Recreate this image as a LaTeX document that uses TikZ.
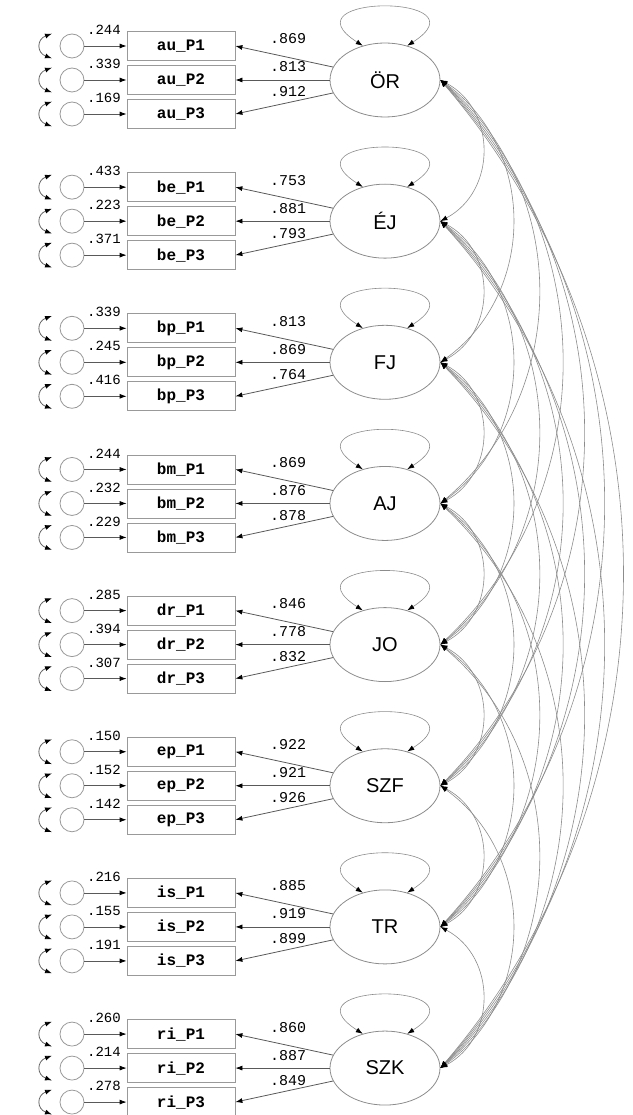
\documentclass[tikz,border=0pt]{standalone}
\usepackage{fontspec}
\setmainfont{Liberation Sans}
\newfontfamily\cfmono{Liberation Mono}
\usetikzlibrary{arrows.meta,shapes.geometric}

\begin{document}
\begin{tikzpicture}[x=1pt, y=1pt,
    >={Latex[length=7pt,width=5pt,color=black,fill=black]},
    factor/.style = {ellipse, draw=black!45, line width=0.8pt, minimum width=110pt,
      minimum height=74pt, inner sep=0pt, font=\fontsize{20}{20}\selectfont},
    indicator/.style = {rectangle, draw=black!40, line width=0.8pt, minimum width=108pt,
      minimum height=29pt, inner sep=0pt, font=\cfmono\bfseries\fontsize{16}{16}\selectfont},
    errterm/.style = {circle, draw=black!40, line width=0.8pt, minimum size=24pt, inner sep=0pt},
    reg/.style = {->, draw=black!65, line width=0.8pt},
    cov/.style = {<->, draw=black!45, line width=0.6pt},
    loadlbl/.style = {inner sep=0pt, font=\cfmono\fontsize{15}{15}\selectfont},
    varlbl/.style = {inner sep=0pt, font=\cfmono\fontsize{14}{14}\selectfont}]
  \useasboundingbox (0,0) rectangle (632,-1115);

  % factors, indicators and error terms
  \foreach \fac/\ind/\vra/\vrb/\vrc/\lda/\ldb/\ldc [count=\i] in {
      ÖR/au/.244/.339/.169/.869/.813/.912,
      ÉJ/be/.433/.223/.371/.753/.881/.793,
      FJ/bp/.339/.245/.416/.813/.869/.764,
      AJ/bm/.244/.232/.229/.869/.876/.878,
      JO/dr/.285/.394/.307/.846/.778/.832,
      SZF/ep/.150/.152/.142/.922/.921/.926,
      TR/is/.216/.155/.191/.885/.919/.899,
      SZK/ri/.260/.214/.278/.860/.887/.849} {
    \node[factor] (f\i) at (385,{-80-141.15*(\i-1)}) {\fac};
    \draw[cov] (f\i.123) .. controls +(-81,52) and +(81,52) .. (f\i.57);
    \foreach \vr/\ld/\ang/\dy [count=\k] in {\vra/\lda/166/41, \vrb/\ldb/180/13, \vrc/\ldc/194/-12} {
      \node[indicator] (x\i\k) at ([shift={(-204,{34*(2-\k)})}]f\i) {\ind\_P\k};
      \node[errterm] (e\i\k) at ([xshift=-109pt]x\i\k) {};
      \draw[reg] (e\i\k) -- (x\i\k);
      \draw[reg] (f\i.\ang) -- (x\i\k.east);
      \draw[cov, draw=black!60, line width=0.8pt] ([xshift=-20pt]e\i\k.north)
        to[out=200, in=160, looseness=1.7] ([xshift=-20pt]e\i\k.south);
      \node[loadlbl] at ([shift={(-97,\dy)}]f\i) {\ld};
      \node[varlbl] at ([shift={(32,16)}]e\i\k) {\vr};
    }
  }

  % covariances between the factors
  \foreach \i in {1,...,7} {
    \pgfmathtruncatemacro\nxt{\i+1}
    \foreach \j in {\nxt,...,8} {
      \pgfmathsetmacro\bnd{62-11*ln(\j-\i)}
      \pgfmathsetmacro\lse{0.8514/(cos(\bnd/2))^2}
      \draw[cov] (f\i.east) to[bend left=\bnd, looseness=\lse] (f\j.east);
    }
  }
\end{tikzpicture}
\end{document}
